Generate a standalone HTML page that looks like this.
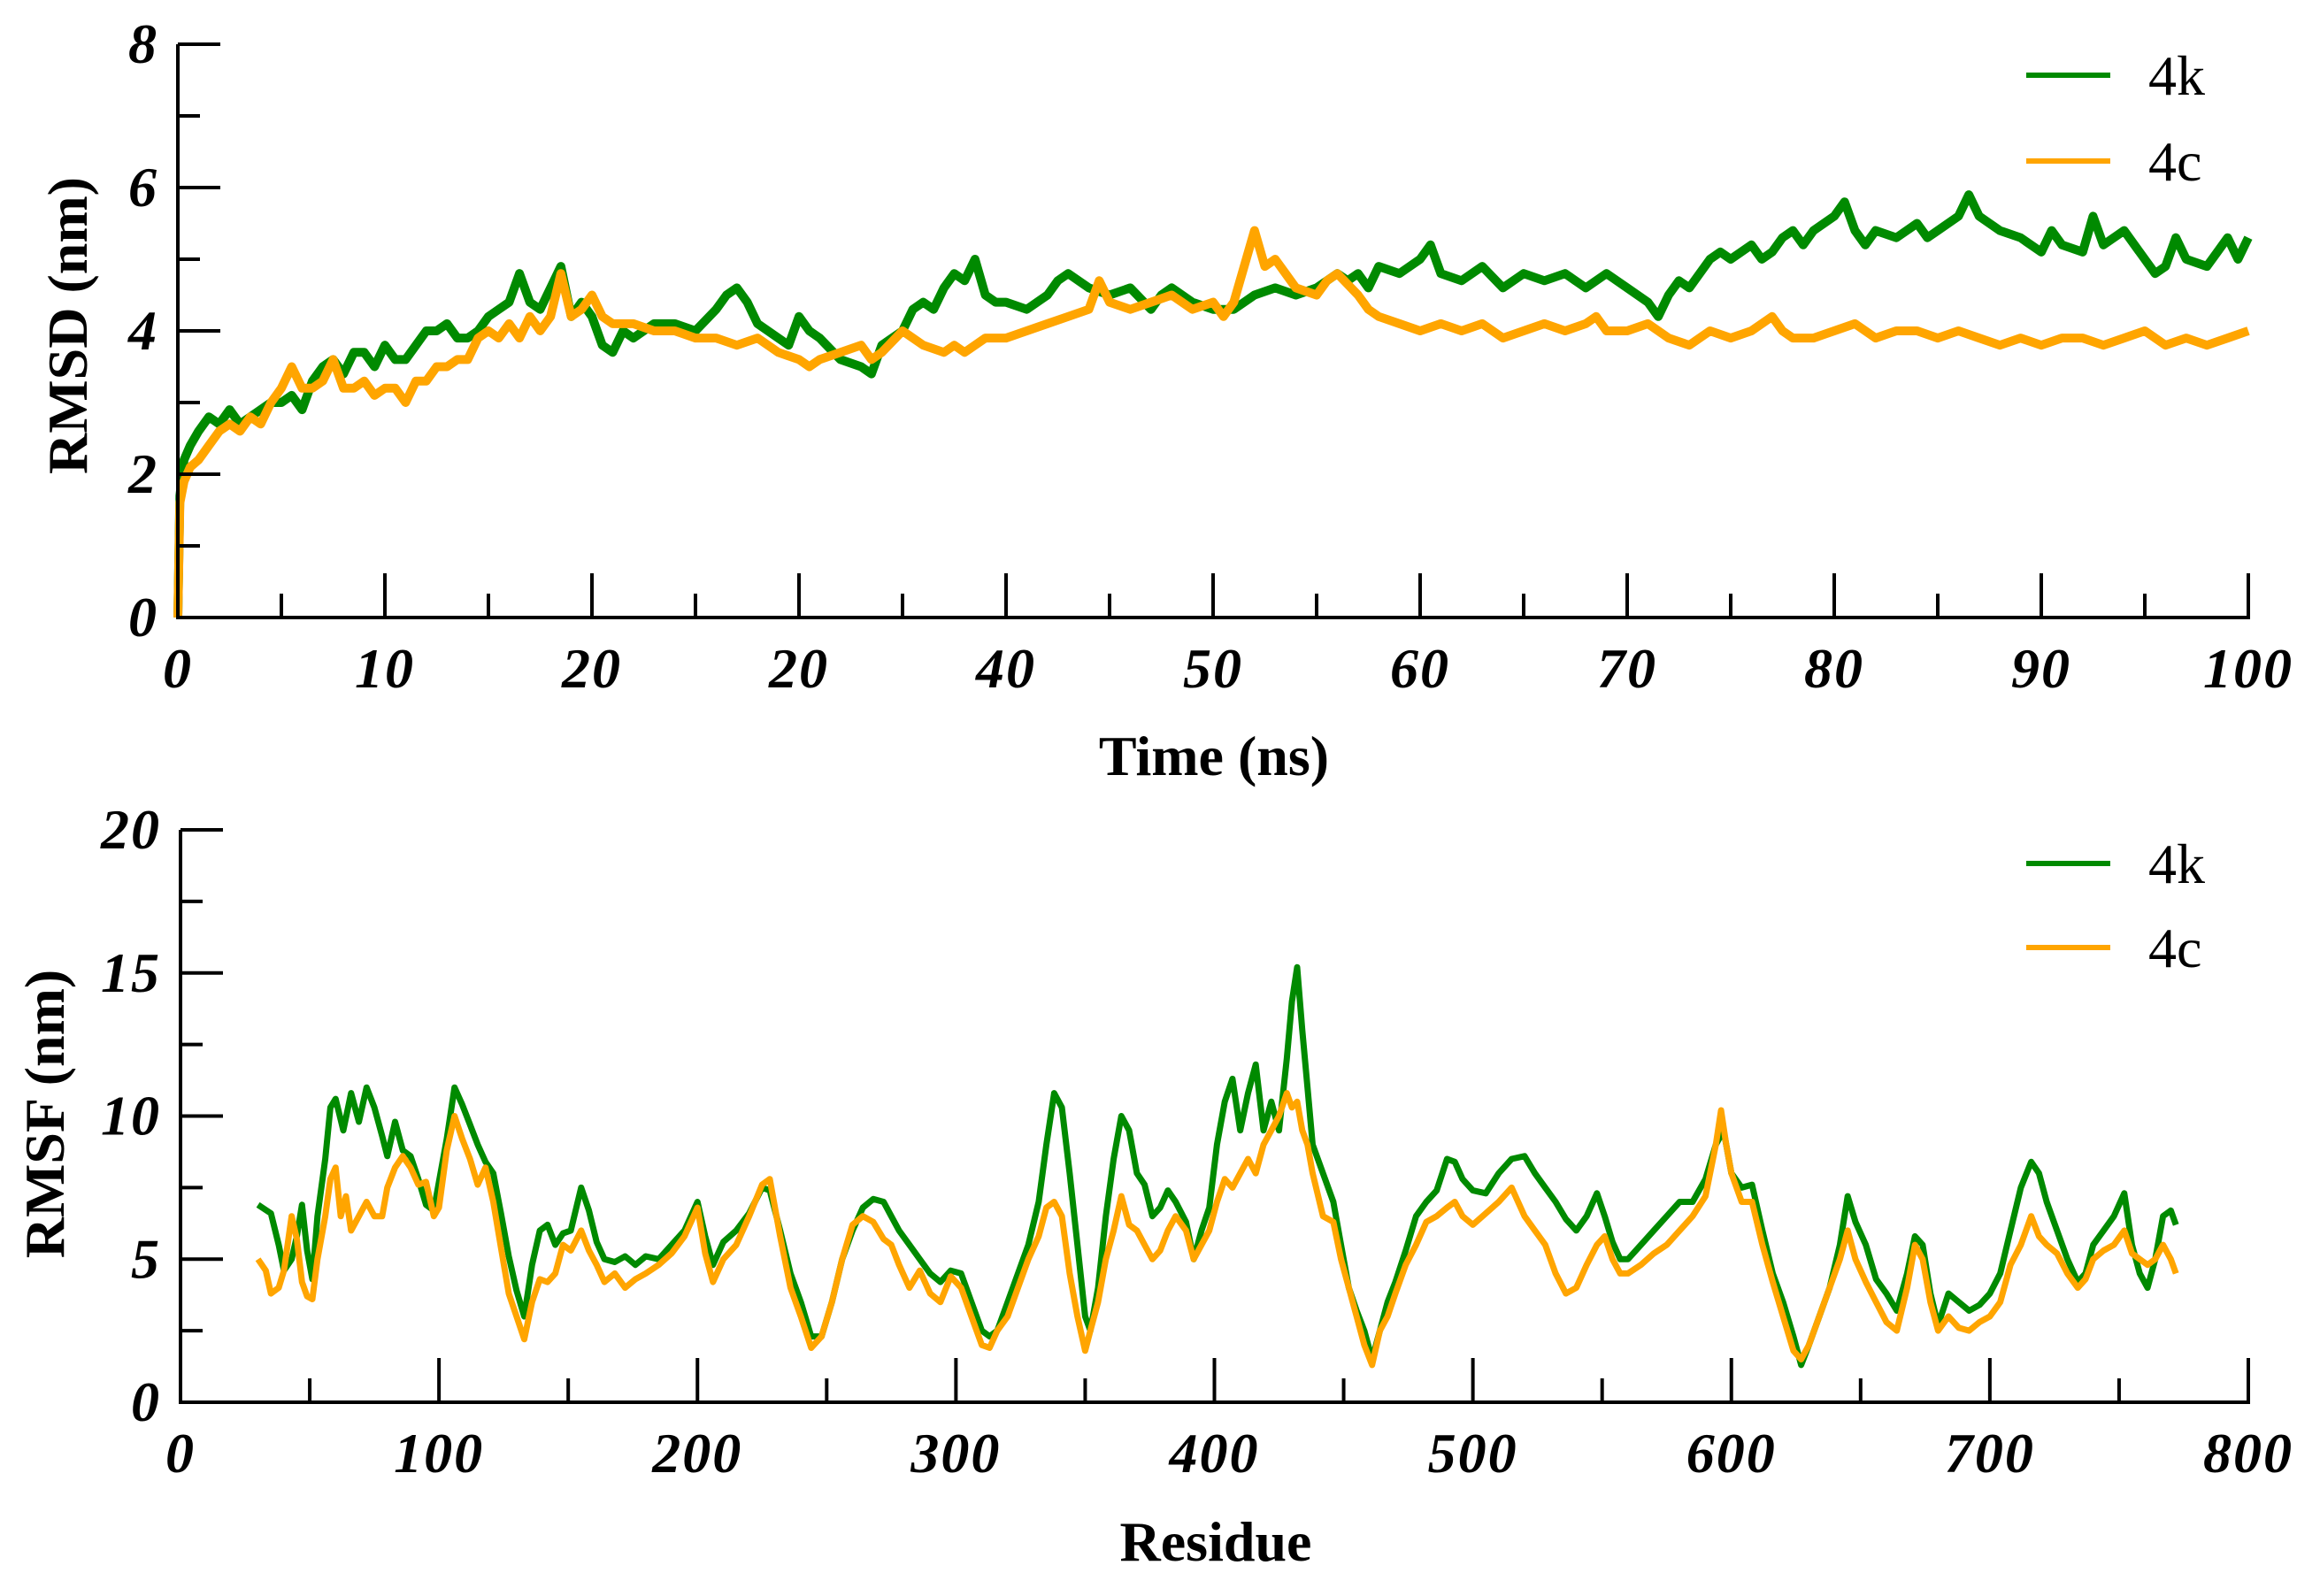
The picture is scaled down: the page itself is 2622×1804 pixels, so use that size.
<!DOCTYPE html>
<html><head><meta charset="utf-8"><title>RMSD and RMSF</title>
<style>
html,body{margin:0;padding:0;background:#fff;}
svg{display:block;}
text{font-family:"Liberation Serif",serif;fill:#000;}
.tick{font-weight:bold;font-style:italic;font-size:64px;}
.title{font-weight:bold;font-size:64px;}
.leg{font-size:64px;}
</style></head>
<body>
<svg id="fig" width="2622" height="1804" viewBox="0 0 2622 1804" xmlns="http://www.w3.org/2000/svg">
<g id="top"></g>
<g id="bot"></g>
</svg>
<script>
// ---- RMSD (top) data ----
const rmsdTimeK = [0,0.1,0.3,0.6,1,1.5,2,2.5,3,3.5,4,4.5,5,5.5,6,6.5,7,7.5,8,8.5,9,9.5,10,10.5,11,11.5,12,12.5,13,13.5,14,14.5,15,15.5,16,16.5,17,17.5,18,18.5,19,19.5,20,20.5,21,21.5,22,22.5,23,24,25,26,26.5,27,27.5,28,29,29.5,30,30.5,31,32,33,33.5,34,34.5,35,35.5,36,36.5,37,37.5,38,38.5,39,39.5,40,41,42,42.5,43,44,45,46,47,47.5,48,49,50,51,52,53,54,55,56,56.5,57,57.5,58,59,60,60.5,61,62,63,64,65,66,67,68,69,70,70.5,71,71.5,72,72.5,73,74,74.5,75,76,76.5,77,77.5,78,78.5,79,80,80.5,81,81.5,82,83,84,84.5,85,86,86.5,87,87.5,88,89,90,90.5,91,92,92.5,93,94,95,95.5,96,96.5,97,98,98.5,99,99.5,100];
const rmsd4k = [0,1.7,2.2,2.4,2.6,2.8,2.7,2.9,2.7,2.8,2.9,3.0,3.0,3.1,2.9,3.3,3.5,3.6,3.4,3.7,3.7,3.5,3.8,3.6,3.6,3.8,4.0,4.0,4.1,3.9,3.9,4.0,4.2,4.3,4.4,4.8,4.4,4.3,4.6,4.9,4.2,4.4,4.2,3.8,3.7,4.0,3.9,4.0,4.1,4.1,4.0,4.3,4.5,4.6,4.4,4.1,3.9,3.8,4.2,4.0,3.9,3.6,3.5,3.4,3.8,3.9,4.0,4.3,4.4,4.3,4.6,4.8,4.7,5.0,4.5,4.4,4.4,4.3,4.5,4.7,4.8,4.6,4.5,4.6,4.3,4.5,4.6,4.4,4.3,4.3,4.5,4.6,4.5,4.6,4.8,4.7,4.8,4.6,4.9,4.8,5.0,5.2,4.8,4.7,4.9,4.6,4.8,4.7,4.8,4.6,4.8,4.6,4.5,4.4,4.2,4.5,4.7,4.6,5.0,5.1,5.0,5.2,5.0,5.1,5.3,5.4,5.2,5.4,5.6,5.8,5.4,5.2,5.4,5.3,5.5,5.3,5.4,5.6,5.9,5.6,5.5,5.4,5.3,5.1,5.4,5.2,5.1,5.6,5.2,5.4,5.0,4.8,4.9,5.3,5.0,4.9,5.1,5.3,5.0,5.3];
const rmsdTimeC = [0,0.1,0.3,0.6,1,1.5,2,2.5,3,3.5,4,4.5,5,5.5,6,6.5,7,7.5,8,8.5,9,9.5,10,10.5,11,11.5,12,12.5,13,13.5,14,14.5,15,15.5,16,16.5,17,17.5,18,18.5,19,19.5,20,20.5,21,22,23,24,25,26,27,28,29,30,30.5,31,32,33,33.5,34,35,36,37,37.5,38,39,40,41,42,43,44,44.5,45,46,47,48,49,50,50.5,51,51.5,52,52.5,53,53.5,54,55,55.5,56,57,57.5,58,59,60,61,62,63,64,65,66,67,68,68.5,69,70,71,72,73,74,75,76,77,77.5,78,79,80,81,82,83,84,85,86,87,88,89,90,91,92,93,94,95,96,97,98,99,100];
const rmsd4c = [0,1.6,1.9,2.1,2.2,2.4,2.6,2.7,2.6,2.8,2.7,3.0,3.2,3.5,3.2,3.2,3.3,3.6,3.2,3.2,3.3,3.1,3.2,3.2,3.0,3.3,3.3,3.5,3.5,3.6,3.6,3.9,4.0,3.9,4.1,3.9,4.2,4.0,4.2,4.8,4.2,4.3,4.5,4.2,4.1,4.1,4.0,4.0,3.9,3.9,3.8,3.9,3.7,3.6,3.5,3.6,3.7,3.8,3.6,3.7,4.0,3.8,3.7,3.8,3.7,3.9,3.9,4.0,4.1,4.2,4.3,4.7,4.4,4.3,4.4,4.5,4.3,4.4,4.2,4.4,4.9,5.4,4.9,5.0,4.8,4.6,4.5,4.7,4.8,4.5,4.3,4.2,4.1,4.0,4.1,4.0,4.1,3.9,4.0,4.1,4.0,4.1,4.2,4.0,4.0,4.1,3.9,3.8,4.0,3.9,4.0,4.2,4.0,3.9,3.9,4.0,4.1,3.9,4.0,4.0,3.9,4.0,3.9,3.8,3.9,3.8,3.9,3.9,3.8,3.9,4.0,3.8,3.9,3.8,3.9,4.0];
const rmsdXTickLabels = ["0","10","20","20","40","50","60","70","80","90","100"];
const rmsdYTickLabels = ["0","2","4","6","8"];

// ---- RMSF (bottom) data ----
const resK = [30,35,38,40,43,45,47,49,51,53,56,58,60,63,66,69,72,75,78,80,83,86,89,92,95,98,100,103,106,109,112,115,118,121,124,127,130,133,136,139,142,145,148,151,155,158,161,164,168,172,176,180,185,190,195,200,203,206,210,215,220,225,228,232,236,240,244,248,252,256,260,264,268,272,275,278,282,286,290,294,298,302,306,310,313,316,320,324,328,332,335,338,341,344,347,350,352,355,358,361,364,367,370,373,376,379,382,385,389,392,395,398,401,404,407,410,413,416,419,422,425,428,430,432,434,436,438,442,446,449,452,455,458,461,464,467,470,474,478,482,486,490,493,496,500,505,510,515,520,524,528,532,536,540,544,548,551,554,557,560,565,570,575,580,585,590,594,597,600,604,608,612,616,620,624,627,630,634,638,642,645,648,652,656,660,664,668,671,674,677,680,684,688,692,696,700,704,708,712,716,719,722,726,730,734,737,740,744,748,752,755,758,761,764,767,770,772];
const rmsf4k = [6.9,6.6,5.5,4.6,5.0,5.8,6.9,5.3,4.3,6.5,8.5,10.3,10.6,9.5,10.8,9.8,11.0,10.3,9.3,8.6,9.8,8.8,8.6,7.8,6.9,6.7,7.7,9.2,11.0,10.4,9.7,9.0,8.4,8.0,6.6,5.1,3.9,3.0,4.8,6.0,6.2,5.5,5.9,6.0,7.5,6.7,5.6,5.0,4.9,5.1,4.8,5.1,5.0,5.5,6.0,7.0,5.8,4.8,5.6,6.0,6.6,7.5,7.4,6.0,4.5,3.5,2.3,2.3,3.5,5.0,6.0,6.8,7.1,7.0,6.5,6.0,5.5,5.0,4.5,4.2,4.6,4.5,3.5,2.5,2.3,2.5,3.5,4.5,5.5,7.0,9.0,10.8,10.3,8.0,5.5,3.0,2.5,4.0,6.5,8.5,10.0,9.5,8.0,7.6,6.5,6.8,7.4,7.0,6.3,5.0,6.0,6.8,9.0,10.5,11.3,9.5,10.8,11.8,9.5,10.5,9.5,12.0,14.0,15.2,13.0,11.0,9.0,8.0,7.0,5.5,4.0,3.2,2.5,1.5,2.5,3.5,4.2,5.3,6.5,7.0,7.4,8.5,8.4,7.8,7.4,7.3,8.0,8.5,8.6,8.0,7.5,7.0,6.4,6.0,6.5,7.3,6.5,5.6,5.0,5.0,5.5,6.0,6.5,7.0,7.0,7.8,9.0,9.5,8.0,7.5,7.6,6.0,4.5,3.5,2.3,1.3,2.0,3.0,4.0,5.5,7.2,6.3,5.5,4.3,3.8,3.2,4.5,5.8,5.5,3.8,2.7,3.8,3.5,3.2,3.4,3.8,4.5,6.0,7.5,8.4,8.0,7.0,6.0,5.0,4.2,4.5,5.5,6.0,6.5,7.3,5.5,4.5,4.0,5.0,6.5,6.7,6.2];
const resC = [30,33,35,38,40,43,45,47,49,51,53,56,58,60,62,64,66,69,72,75,78,80,83,86,89,92,95,98,100,103,106,109,112,115,118,121,124,127,130,133,136,139,142,145,148,151,155,158,161,164,168,172,176,180,185,190,195,200,203,206,210,215,220,225,228,232,236,240,244,248,252,256,260,264,268,272,275,278,282,286,290,294,298,302,306,310,313,316,320,324,328,332,335,338,341,344,347,350,352,355,358,361,364,367,370,373,376,379,382,385,389,392,395,398,401,404,407,410,413,416,419,422,425,428,430,432,434,436,438,442,446,449,452,455,458,461,464,467,470,474,478,482,486,490,493,496,500,505,510,515,520,524,528,532,536,540,544,548,551,554,557,560,565,570,575,580,585,590,594,596,598,600,604,608,612,616,620,624,627,630,634,638,642,645,648,652,656,660,664,668,671,674,677,680,684,688,692,696,700,704,708,712,716,719,722,726,730,734,737,740,744,748,752,755,758,761,764,767,770,772];
const rmsf4c = [5.0,4.6,3.8,4.0,4.6,6.5,5.7,4.2,3.7,3.6,5.0,6.5,7.8,8.2,6.5,7.2,6.0,6.5,7.0,6.5,6.5,7.5,8.2,8.6,8.2,7.6,7.7,6.5,6.8,8.8,10.0,9.2,8.5,7.6,8.2,7.0,5.4,3.8,3.0,2.2,3.5,4.3,4.2,4.5,5.5,5.3,6.0,5.3,4.8,4.2,4.5,4.0,4.3,4.5,4.8,5.2,5.8,6.8,5.2,4.2,5.0,5.5,6.5,7.6,7.8,5.8,4.0,3.0,1.9,2.3,3.5,5.0,6.2,6.5,6.3,5.7,5.5,4.8,4.0,4.6,3.8,3.5,4.4,4.0,3.0,2.0,1.9,2.5,3.0,4.0,5.0,5.8,6.8,7.0,6.5,4.5,3.0,1.8,2.5,3.5,5.0,6.0,7.2,6.2,6.0,5.5,5.0,5.3,6.0,6.5,6.0,5.0,5.5,6.0,7.0,7.8,7.5,8.0,8.5,8.0,9.0,9.5,10.0,10.8,10.3,10.5,9.5,9.0,8.0,6.5,6.3,5.0,4.0,3.0,2.0,1.3,2.5,3.0,3.8,4.8,5.5,6.3,6.5,6.8,7.0,6.5,6.2,6.6,7.0,7.5,6.5,6.0,5.5,4.5,3.8,4.0,4.8,5.5,5.8,5.0,4.5,4.5,4.8,5.2,5.5,6.0,6.5,7.2,9.0,10.2,9.0,8.0,7.0,7.0,5.5,4.2,3.0,1.8,1.5,2.0,3.0,4.0,5.0,6.0,5.0,4.2,3.5,2.8,2.5,4.0,5.5,5.0,3.5,2.5,3.0,2.6,2.5,2.8,3.0,3.5,4.8,5.5,6.5,5.8,5.5,5.2,4.5,4.0,4.3,5.0,5.3,5.5,6.0,5.2,5.0,4.8,5.0,5.5,5.0,4.5];
const rmsfXTickLabels = ["0","100","200","300","400","500","600","700","800"];
const rmsfYTickLabels = ["0","5","10","15","20"];

const NS = "http://www.w3.org/2000/svg";
function mk(parent, tag, attrs) {
  const e = document.createElementNS(NS, tag);
  for (const k in attrs) e.setAttribute(k, attrs[k]);
  parent.appendChild(e);
  return e;
}

function drawChart(g, cfg) {
  const sx = v => cfg.x0 + (v - cfg.xmin) / (cfg.xmax - cfg.xmin) * (cfg.x1 - cfg.x0);
  const sy = v => cfg.y0 + (v - cfg.ymin) / (cfg.ymax - cfg.ymin) * (cfg.y1 - cfg.y0);
  cfg.series.forEach(s => {
    let d = "";
    s.xs.forEach((xv, i) => { d += (i ? "L" : "M") + sx(xv).toFixed(1) + " " + sy(s.ys[i]).toFixed(1); });
    const p = mk(g, "path", {d: d, fill: "none", stroke: s.color, "stroke-width": cfg.lw, "stroke-linejoin": "round"});
    
    
  });
  const ax = mk(g, "path", {d: `M${cfg.x0} ${cfg.y1} L${cfg.x0} ${cfg.y0} L${cfg.x1} ${cfg.y0} L${cfg.x1} ${cfg.y0-50}`, fill: "none", stroke: "#000", "stroke-width": 4});
  
  
  const ny = cfg.yLabels.length;
  for (let i = 0; i < ny; i++) {
    const v = cfg.ymin + i * (cfg.ymax - cfg.ymin) / (ny - 1);
    const y = sy(v);
    const t = mk(g, "line", {x1: cfg.x0, y1: y, x2: cfg.x0 + 48, y2: y, stroke: "#000", "stroke-width": 4});
    
    
    if (i < ny - 1) {
      const ym = sy(v + (cfg.ymax - cfg.ymin) / (ny - 1) / 2);
      const tm = mk(g, "line", {x1: cfg.x0, y1: ym, x2: cfg.x0 + 25, y2: ym, stroke: "#000", "stroke-width": 4});
      
      
    }
    const lb = mk(g, "text", {x: cfg.x0 - 22, y: y + 21, "text-anchor": "end", class: "tick", "letter-spacing": "2"});
    lb.textContent = cfg.yLabels[i];
    
    
  }
  const nx = cfg.xLabels.length;
  for (let i = 0; i < nx; i++) {
    const v = cfg.xmin + i * (cfg.xmax - cfg.xmin) / (nx - 1);
    const x = sx(v);
    const t = mk(g, "line", {x1: x, y1: cfg.y0, x2: x, y2: cfg.y0 - 50, stroke: "#000", "stroke-width": 4});
    
    
    if (i < nx - 1) {
      const xm = sx(v + (cfg.xmax - cfg.xmin) / (nx - 1) / 2);
      const tm = mk(g, "line", {x1: xm, y1: cfg.y0, x2: xm, y2: cfg.y0 - 27, stroke: "#000", "stroke-width": 4});
      
      
    }
    const lb = mk(g, "text", {x: x, y: cfg.y0 + 79, "text-anchor": "middle", class: "tick", "letter-spacing": "2"});
    lb.textContent = cfg.xLabels[i];
    
    
  }
  const xt = mk(g, "text", {x: cfg.xTitlePos[0], y: cfg.xTitlePos[1], "text-anchor": "middle", class: "title"});
  xt.textContent = cfg.xTitle;
  
  
  const yt = mk(g, "text", {x: 0, y: 0, "text-anchor": "middle", class: "title", transform: `translate(${cfg.yTitlePos[0]},${cfg.yTitlePos[1]}) rotate(-90)`});
  yt.textContent = cfg.yTitle;
  
  
  cfg.series.forEach((s, i) => {
    const ly = cfg.legY[i];
    const ll = mk(g, "line", {x1: 2290, y1: ly, x2: 2385, y2: ly, stroke: s.color, "stroke-width": 6});
    
    
    const lt = mk(g, "text", {x: 2428, y: ly + 22, class: "leg"});
    lt.textContent = s.label;
    
    
  });
}

drawChart(document.getElementById("top"), {
  prefix: "rmsd", x0: 201, x1: 2541, y0: 698, y1: 50, xmin: 0, xmax: 100, ymin: 0, ymax: 8, lw: 10,
  xLabels: rmsdXTickLabels, yLabels: rmsdYTickLabels,
  xTitle: "Time (ns)", xTitlePos: [1372, 876], yTitle: "RMSD (nm)", yTitlePos: [98, 368],
  legY: [85, 182],
  series: [
    {name: "rmsd-4k-line", label: "4k", color: "#008a00", xs: rmsdTimeK, ys: rmsd4k},
    {name: "rmsd-4c-line", label: "4c", color: "#ffa500", xs: rmsdTimeC, ys: rmsd4c}
  ]
});
drawChart(document.getElementById("bot"), {
  prefix: "rmsf", x0: 204, x1: 2541, y0: 1585, y1: 938, xmin: 0, xmax: 800, ymin: 0, ymax: 20, lw: 7,
  xLabels: rmsfXTickLabels, yLabels: rmsfYTickLabels,
  xTitle: "Residue", xTitlePos: [1374, 1764], yTitle: "RMSF (nm)", yTitlePos: [72, 1259],
  legY: [976, 1071],
  series: [
    {name: "rmsf-4k-line", label: "4k", color: "#008a00", xs: resK, ys: rmsf4k},
    {name: "rmsf-4c-line", label: "4c", color: "#ffa500", xs: resC, ys: rmsf4c}
  ]
});
</script>
</body></html>
